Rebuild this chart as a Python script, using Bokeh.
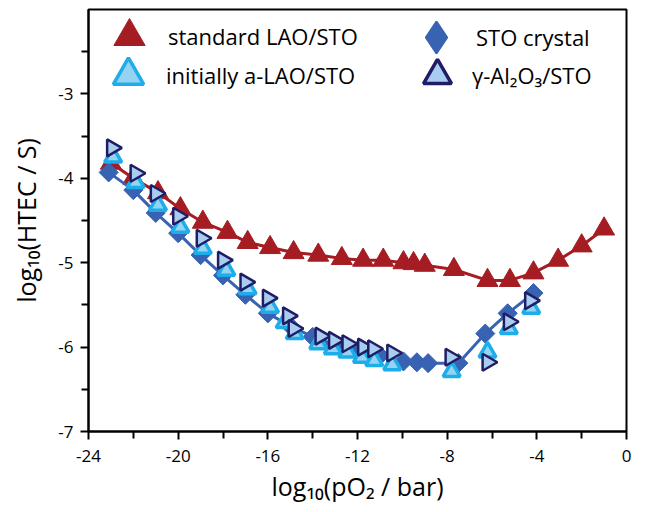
import math
from bokeh.plotting import figure
from bokeh.models import Legend, LegendItem, FixedTicker, ColumnDataSource, Range1d
from bokeh.embed import file_html
from bokeh.resources import INLINE

# ---- data ----
x_std = [-23.0, -22.0, -20.9, -19.9, -18.9, -17.8, -16.9, -15.9, -14.85, -13.75, -12.7, -11.75,
         -10.85, -9.95, -9.5, -9.0, -7.7, -6.2, -5.2, -4.15, -3.05, -2.0, -1.0]
y_std = [-3.82, -4.00, -4.17, -4.36, -4.52, -4.64, -4.76, -4.82, -4.88, -4.91, -4.95, -4.97,
         -4.97, -5.00, -5.01, -5.03, -5.08, -5.21, -5.21, -5.12, -4.97, -4.80, -4.60]

x_ini = [-22.9, -21.9, -20.9, -19.9, -18.9, -17.85, -16.9, -15.9, -15.25, -14.8, -13.75, -13.1,
         -12.45, -11.8, -11.25, -10.45, -7.8, -6.2, -5.25, -4.25]
y_ini = [-3.75, -4.05, -4.32, -4.58, -4.83, -5.09, -5.31, -5.53, -5.71, -5.84, -5.96, -6.02,
         -6.06, -6.12, -6.16, -6.21, -6.29, -6.06, -5.78, -5.54]

x_sto = [-23.1, -22.0, -21.0, -20.0, -19.0, -18.0, -17.0, -16.0, -15.0, -14.0, -13.0, -12.0,
         -11.0, -9.95, -9.35, -8.85, -7.5, -6.3, -5.3, -4.15]
y_sto = [-3.93, -4.14, -4.41, -4.65, -4.91, -5.15, -5.38, -5.60, -5.75, -5.88, -5.97, -6.04,
         -6.10, -6.17, -6.18, -6.19, -6.19, -5.84, -5.60, -5.36]

x_gam = [-22.95, -21.9, -21.0, -20.0, -18.95, -18.0, -17.0, -16.0, -15.1, -14.85, -13.65, -13.05,
         -12.45, -11.75, -11.3, -10.45, -7.85, -6.2, -5.25, -4.3]
y_gam = [-3.64, -3.94, -4.18, -4.45, -4.71, -4.97, -5.23, -5.42, -5.63, -5.78, -5.87, -5.92,
         -5.96, -6.00, -6.02, -6.07, -6.12, -6.18, -5.70, -5.45]

labels = ["standard LAO/STO", "initially a-LAO/STO", "STO crystal", "\u03b3-Al\u2082O\u2083/STO"]
x_ticks = [-24, -20, -16, -12, -8, -4, 0]
x_minor = [-22, -18, -14, -10, -6, -2]
y_ticks = [-7, -6, -5, -4, -3]
y_minor = [-6.5, -5.5, -4.5, -3.5, -2.5]

RED = "#a51d23"
SKY = "#1cadea"
SKY_FILL = "#94d4f2"
BLUE = "#3862b2"
NAVY = "#1f1d66"
NAVY_FILL = "#a8cdee"
FONT = "Open Sans"

p = figure(width=640, height=505, x_range=Range1d(-24, 0), y_range=Range1d(-7, -2),
           output_backend="svg", toolbar_location=None,
           min_border_left=88, min_border_right=14, min_border_top=9, min_border_bottom=74)
p.xgrid.visible = False
p.ygrid.visible = False
p.outline_line_color = "black"
p.outline_line_width = 2
p.background_fill_color = "white"
p.border_fill_color = "white"

for ax in (p.xaxis[0], p.yaxis[0]):
    ax.axis_line_width = 2
    ax.axis_line_color = "black"
    ax.major_tick_line_width = 2
    ax.minor_tick_line_width = 2
    ax.major_tick_out = 8
    ax.major_tick_in = 0
    ax.minor_tick_out = 7
    ax.minor_tick_in = 0
    ax.major_label_text_font = FONT
    ax.major_label_text_font_size = "17px"
    ax.major_label_text_color = "black"
    ax.axis_label_text_font = FONT
    ax.axis_label_text_font_size = "25px"
    ax.axis_label_text_font_style = "normal"
    ax.axis_label_text_color = "black"

p.xaxis.ticker = FixedTicker(ticks=x_ticks, minor_ticks=x_minor)
p.yaxis.ticker = FixedTicker(ticks=y_ticks, minor_ticks=y_minor)
p.xaxis.major_label_overrides = {t: str(t) for t in x_ticks}
p.yaxis.major_label_overrides = {t: str(t) for t in y_ticks}
p.xaxis.axis_label = "log\u2081\u2080(pO\u2082 / bar)"
p.yaxis.axis_label = "log\u2081\u2080(HTEC / S)"
p.xaxis.major_label_standoff = 10
p.yaxis.major_label_standoff = 7
p.xaxis.axis_label_standoff = 4
p.yaxis.axis_label_standoff = 12

s_std = ColumnDataSource(dict(x=x_std, y=y_std))
s_ini = ColumnDataSource(dict(x=x_ini, y=y_ini))
s_sto = ColumnDataSource(dict(x=x_sto, y=y_sto))
s_gam = ColumnDataSource(dict(x=x_gam, y=y_gam))

p.line("x", "y", source=s_std, line_color=RED, line_width=3)
r_std = p.scatter("x", "y", source=s_std, marker="triangle", size=21,
                  fill_color=RED, line_color=RED, line_width=1)
p.line("x", "y", source=s_sto, line_color=BLUE, line_width=3)
r_sto = p.scatter("x", "y", source=s_sto, marker="square", size=13.5, angle=math.pi / 4,
                  fill_color=BLUE, line_color=BLUE, line_width=1)
r_ini = p.scatter("x", "y", source=s_ini, marker="triangle", size=17,
                  fill_color=SKY_FILL, line_color=SKY, line_width=3.5)
r_gam = p.scatter("x", "y", source=s_gam, marker="triangle", size=17, angle=-math.pi / 2,
                  fill_color=NAVY_FILL, line_color=NAVY, line_width=2.5)

# legend-only symbol renderers (not drawn in the plot area)
r_sto_key = p.scatter("x", "y", source=s_sto, marker="diamond", size=12,
                      fill_color=BLUE, line_color=BLUE, line_width=2, visible=False)
r_gam_key = p.scatter("x", "y", source=s_gam, marker="triangle", size=17,
                      fill_color=NAVY_FILL, line_color=NAVY, line_width=3.5, visible=False)

common = dict(padding=0, margin=0, spacing=0, background_fill_alpha=0, border_line_alpha=0,
              label_standoff=0, label_text_font=FONT, label_text_font_size="22px",
              label_text_color="black")

legends = [
    Legend(items=[LegendItem(label=labels[0], renderers=[r_std])],
           location=(2, 356), glyph_width=78, glyph_height=78, **common),
    Legend(items=[LegendItem(label=labels[1], renderers=[r_ini])],
           location=(2, 318), glyph_width=76, glyph_height=76, **common),
    Legend(items=[LegendItem(label=labels[2], renderers=[r_sto_key])],
           location=(308, 354), glyph_width=80, glyph_height=80, **common),
    Legend(items=[LegendItem(label=labels[3], renderers=[r_gam_key])],
           location=(314, 321), glyph_width=70, glyph_height=70, **common),
]
for lg in legends:
    p.add_layout(lg)

open("out.html", "w").write(file_html(p, INLINE))
